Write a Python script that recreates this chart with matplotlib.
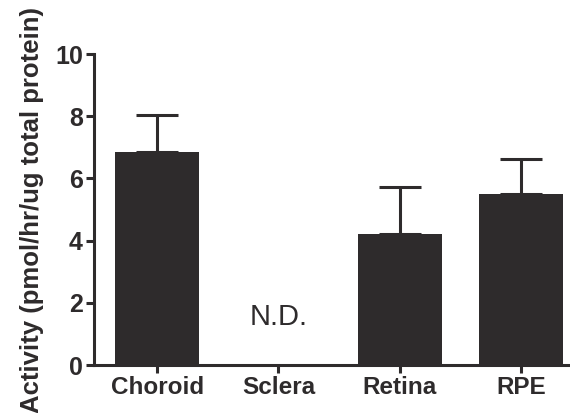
import numpy as np
from matplotlib import pyplot as plt

tissues = ["Choroid", "Sclera", "Retina", "RPE"]
activity = [6.84, 0.0, 4.22, 5.50]
sem = [1.19, 0.0, 1.52, 1.14]
nd_label = "N.D."

plt.rcParams["font.family"] = ["Liberation Sans", "DejaVu Sans"]

fig = plt.figure(figsize=(5.70, 4.13), dpi=100)
ax = fig.add_axes([0.165, 0.116, 0.845, 0.753])

x = np.arange(len(tissues))
bar_col = "#2e2b2c"
line_col = "#2e2b2c"
has_val = [v > 0 for v in activity]
xs = x[has_val]
vals = np.array(activity)[has_val]
errs = np.array(sem)[has_val]

ax.bar(xs, vals, width=0.69, color=bar_col, zorder=2)
ax.errorbar(xs, vals, yerr=[np.zeros_like(errs), errs], fmt="none",
            ecolor=line_col, elinewidth=2.2, capsize=15, capthick=2.2, zorder=1)

# not detected
ax.text(1, 1.55, nd_label, ha="center", va="center", fontsize=21, color="#2e2b2c")

ax.set_xlim(-0.52, 3.45)
ax.set_ylim(0, 10)
ax.set_yticks([0, 2, 4, 6, 8, 10])
ax.set_xticks(x)
ax.set_xticklabels(tissues, fontsize=17.5, fontweight="bold", color="#2e2b2c")
for lab in ax.get_yticklabels():
    lab.set_fontsize(18)
    lab.set_fontweight("bold")
    lab.set_color("#2e2b2c")

ax.spines["top"].set_visible(False)
ax.spines["right"].set_visible(False)
for s in ["left", "bottom"]:
    ax.spines[s].set_linewidth(2.2)
    ax.spines[s].set_color(line_col)
ax.tick_params(axis="both", width=2.2, length=6, color=line_col, pad=2)

ax.set_ylabel("Activity (pmol/hr/ug total protein)", fontsize=18.5,
              fontweight="bold", color="#2e2b2c", labelpad=8)

fig.savefig("out.png", dpi=100)
